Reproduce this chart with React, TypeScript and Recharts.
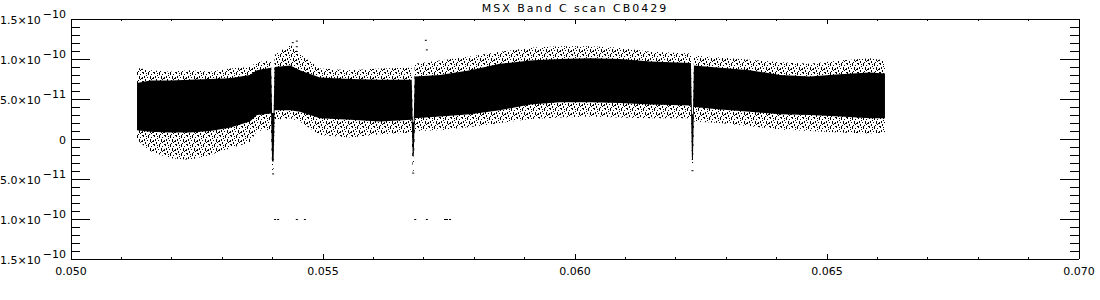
import { Area, ComposedChart, Scatter, XAxis, YAxis } from "recharts";

const TITLE = "MSX Band C scan CB0429";
const FONT = "'DejaVu Sans', sans-serif";

// Envelope of the scan. Flux is in units of 1e-11.
// "core" is the solid black band, "spread" the speckled noise around it.
// The three dips (negative spikes with a white gap above) are sampled tightly.
const scanPos = [
  0.05131, 0.05157, 0.05196, 0.05236, 0.05276, 0.05315, 0.05355, 0.05369,
  0.05397, 0.05399, 0.05402, 0.05404, 0.05435, 0.05454, 0.05494, 0.05554,
  0.05613, 0.05676, 0.05678, 0.0568, 0.05682, 0.05732, 0.05792, 0.05851,
  0.05911, 0.0597, 0.0603, 0.06089, 0.06149, 0.0623, 0.06232, 0.06234,
  0.06236, 0.06288, 0.06347, 0.06407, 0.06466, 0.06526, 0.06585, 0.06615,
];
const coreLow = [
  1.1, 0.9, 0.8, 0.8, 1.0, 1.4, 2.2, 3.0, 3.2, -2.8, -2.8, 3.6, 3.6, 3.4, 2.6,
  2.4, 2.2, 2.4, -2.2, -2.2, 2.6, 2.8, 3.1, 3.6, 4.3, 4.6, 4.6, 4.5, 4.3, 4.2,
  -2.4, -2.4, 4.0, 3.7, 3.4, 3.1, 3.0, 2.8, 2.6, 2.6,
];
const coreHigh = [
  7.0, 7.3, 7.3, 7.4, 7.5, 7.6, 8.0, 8.6, 8.9, 3.25, 3.25, 9.0, 9.2, 8.6, 7.7,
  7.5, 7.4, 7.4, 2.1, 2.1, 7.8, 8.0, 8.6, 9.4, 9.8, 10.0, 10.1, 10.0, 9.7, 9.5,
  3.0, 3.0, 9.2, 8.9, 8.6, 8.0, 7.8, 8.1, 8.3, 8.2,
];
const spreadLow = [
  -0.1, -1.5, -2.4, -2.6, -2.0, -1.2, -0.4, 1.0, 1.2, -3.9, -3.9, 2.4, 2.6, 2.2,
  0.5, 0.2, 0.6, 0.8, -4.1, -4.1, 1.0, 1.1, 1.5, 2.0, 2.5, 2.7, 2.8, 2.7, 2.6,
  2.6, -3.5, -3.5, 2.2, 2.0, 1.6, 1.2, 1.0, 0.8, 0.7, 0.8,
];
const spreadHigh = [
  8.9, 8.6, 8.4, 8.6, 8.4, 8.8, 9.0, 9.6, 9.8, 3.3, 3.3, 10.5, 11.8, 10.6, 8.8,
  8.6, 8.8, 8.9, 2.2, 2.2, 9.4, 9.8, 10.3, 10.9, 11.4, 11.6, 11.6, 11.4, 10.9,
  10.7, 3.1, 3.1, 10.4, 10.2, 9.9, 9.6, 9.4, 9.8, 10.1, 9.8,
];

// isolated samples well away from the band
const strayX = [
  0.05405, 0.05411, 0.05448, 0.05464, 0.05683, 0.05706, 0.05742, 0.05746,
  0.05752, 0.05448, 0.05448, 0.05448, 0.0544, 0.05704, 0.05706, 0.05401,
  0.05679, 0.06233,
];
const strayY = [
  -10, -10, -10, -10, -10, -10, -10, -10, -10, 12.3, 11.6, 11.0, 12.1, 12.4,
  11.2, -4.3, -4.2, -3.9,
];

const xTicks = [
  0.05, 0.051, 0.052, 0.053, 0.054, 0.055, 0.056, 0.057, 0.058, 0.059, 0.06,
  0.061, 0.062, 0.063, 0.064, 0.065, 0.066, 0.067, 0.068, 0.069, 0.07,
];
const xMajor = [0.05, 0.055, 0.06, 0.065, 0.07];
const xLabels = ["0.050", "0.055", "0.060", "0.065", "0.070"];

const yTicks = [
  -15, -14, -13, -12, -11, -10, -9, -8, -7, -6, -5, -4, -3, -2, -1, 0, 1, 2, 3,
  4, 5, 6, 7, 8, 9, 10, 11, 12, 13, 14, 15,
];
const yMajor = [15, 10, 5, 0, -5, -10, -15];
// the original drops the minus sign on the negative labels, kept as is
const yMantissa = ["1.5×10", "1.0×10", "5.0×10", "0", "5.0×10", "1.0×10", "1.5×10"];
const yExponent = ["−10", "−10", "−11", "", "−11", "−10", "−10"];

const rows = scanPos.map((x, i) => ({
  x,
  core: [coreLow[i], coreHigh[i]],
  spread: [spreadLow[i], spreadHigh[i]],
}));
const strays = strayX.map((x, i) => ({ x, y: strayY[i] }));

// speckle texture for the noisy fringe: short vertical streaks, [x, y, h]
const speckle = [
  [0, 0, 2], [3, 1, 1], [5, 0, 3], [8, 2, 1], [10, 0, 1], [1, 4, 2], [4, 5, 1],
  [7, 4, 3], [9, 6, 1], [2, 7, 2], [6, 8, 1], [10, 5, 2], [3, 3, 1], [8, 7, 1],
];

const majorIndex = (list: number[], v: number) =>
  list.findIndex((m) => Math.abs(m - v) < 1e-9);

function XTick({ x, y, payload, side }: any) {
  const idx = majorIndex(xMajor, payload.value);
  const len = idx >= 0 ? 5 : 2;
  const dir = side === "top" ? 1 : -1;
  return (
    <g>
      <line
        x1={x}
        x2={x}
        y1={y}
        y2={y + dir * len}
        stroke="#000"
        shapeRendering="crispEdges"
      />
      {side === "bottom" && idx >= 0 && (
        <text
          x={x}
          y={y + 16}
          textAnchor="middle"
          fontSize={11}
          fontFamily={FONT}
          fill="#000"
        >
          {xLabels[idx]}
        </text>
      )}
    </g>
  );
}

function YTick({ x, y, payload, side }: any) {
  const idx = majorIndex(yMajor, payload.value);
  const len = idx >= 0 ? 19 : 9;
  const dir = side === "left" ? 1 : -1;
  return (
    <g>
      <line
        x1={x}
        x2={x + dir * len}
        y1={y}
        y2={y}
        stroke="#000"
        shapeRendering="crispEdges"
      />
      {side === "left" && idx >= 0 && (
        <text
          x={x - 5}
          y={y + 5}
          textAnchor="end"
          fontSize={11}
          fontFamily={FONT}
          fill="#000"
        >
          <tspan>{yMantissa[idx]}</tspan>
          {yExponent[idx] && (
            <tspan dx={2} dy={-6}>
              {yExponent[idx]}
            </tspan>
          )}
        </text>
      )}
    </g>
  );
}

const frame = { stroke: "#000", shapeRendering: "crispEdges" };

export default function App() {
  return (
    <div
      style={{
        position: "absolute",
        left: 0,
        top: 0,
        width: 1100,
        height: 300,
        background: "#fff",
      }}
    >
      <ComposedChart
        width={1100}
        height={300}
        data={rows}
        margin={{ top: 0, right: 0, bottom: 0, left: 0 }}
      >
        <XAxis
          xAxisId="bottom"
          dataKey="x"
          type="number"
          domain={[0.05, 0.07]}
          ticks={xTicks}
          interval={0}
          height={41}
          tickSize={0}
          tickMargin={0}
          tickLine={false}
          axisLine={frame}
          allowDataOverflow
          tick={(p: any) => <XTick {...p} side="bottom" />}
        />
        <XAxis
          xAxisId="top"
          orientation="top"
          dataKey="x"
          type="number"
          domain={[0.05, 0.07]}
          ticks={xTicks}
          interval={0}
          height={19}
          tickSize={0}
          tickMargin={0}
          tickLine={false}
          axisLine={frame}
          allowDataOverflow
          tick={(p: any) => <XTick {...p} side="top" />}
        />
        <YAxis
          yAxisId="left"
          type="number"
          domain={[-15, 15]}
          ticks={yTicks}
          interval={0}
          width={71}
          tickSize={0}
          tickMargin={0}
          tickLine={false}
          axisLine={frame}
          allowDataOverflow
          tick={(p: any) => <YTick {...p} side="left" />}
        />
        <YAxis
          yAxisId="right"
          orientation="right"
          type="number"
          domain={[-15, 15]}
          ticks={yTicks}
          interval={0}
          width={21}
          tickSize={0}
          tickMargin={0}
          tickLine={false}
          axisLine={frame}
          allowDataOverflow
          tick={(p: any) => <YTick {...p} side="right" />}
        />
        <Area
          xAxisId="bottom"
          yAxisId="left"
          dataKey="spread"
          type="linear"
          stroke="none"
          fill="url(#speckle)"
          fillOpacity={1}
          isAnimationActive={false}
        />
        <Area
          xAxisId="bottom"
          yAxisId="left"
          dataKey="core"
          type="linear"
          stroke="none"
          fill="#000"
          fillOpacity={1}
          isAnimationActive={false}
        />
        <Scatter
          xAxisId="top"
          yAxisId="right"
          data={strays}
          dataKey="y"
          fill="#000"
          isAnimationActive={false}
          shape={(p: any) => (
            <rect x={p.cx - 1} y={p.cy} width={2} height={1} fill="#000" />
          )}
        />
      </ComposedChart>
      <svg
        width={1100}
        height={300}
        style={{ position: "absolute", left: 0, top: 0, pointerEvents: "none" }}
      >
        <defs>
          <pattern
            id="speckle"
            width={11}
            height={9}
            patternUnits="userSpaceOnUse"
          >
            {speckle.map(([sx, sy, h], i) => (
              <rect key={i} x={sx} y={sy} width={1} height={h} fill="#000" />
            ))}
          </pattern>
        </defs>
        <text
          x={575}
          y={12}
          textAnchor="middle"
          fontSize={11}
          fontFamily={FONT}
          letterSpacing={2}
          fill="#000"
        >
          {TITLE}
        </text>
      </svg>
    </div>
  );
}
